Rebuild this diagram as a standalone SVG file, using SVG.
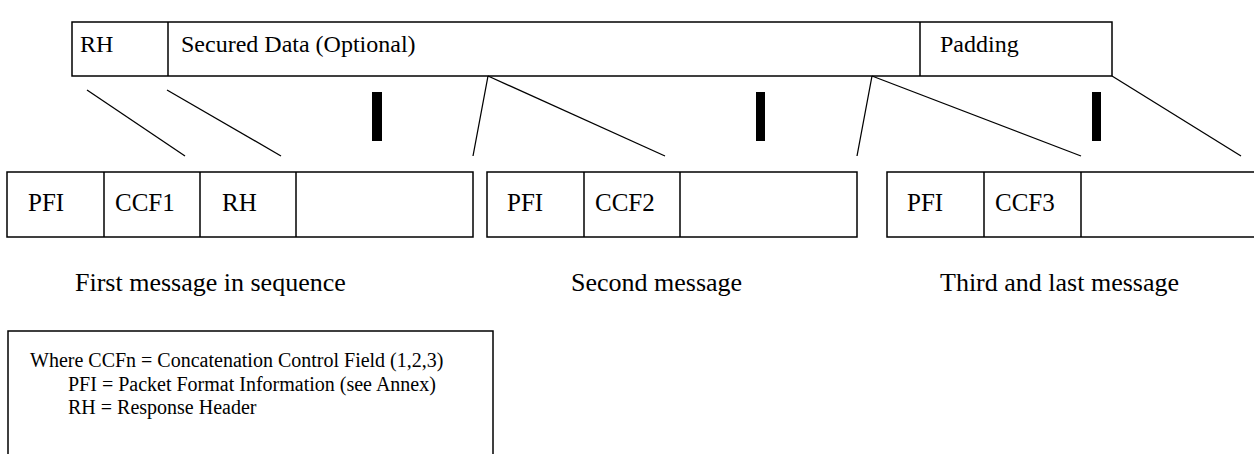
<svg xmlns="http://www.w3.org/2000/svg" width="1254" height="454" viewBox="0 0 1254 454">
<style>
.box{fill:#fff;stroke:#000;stroke-width:1.5}
.div{stroke:#000;stroke-width:1.5}
.ln{stroke:#000;stroke-width:1.3;fill:none}
.bar{fill:#000}
.t{font-family:"Liberation Serif","Times New Roman",serif;font-size:25px;fill:#000}
.tt{font-family:"Liberation Serif","Times New Roman",serif;font-size:24px;fill:#000}
.cap{font-family:"Liberation Serif","Times New Roman",serif;font-size:26px;fill:#000}
.lg{font-family:"Liberation Serif","Times New Roman",serif;font-size:20px;fill:#000}
</style>
<rect width="1254" height="454" fill="#fff"/>
<g id="top-frame">
<rect class="box" x="72" y="22" width="1040" height="54"/>
<line class="div" x1="168" y1="22" x2="168" y2="76"/>
<line class="div" x1="920" y1="22" x2="920" y2="76"/>
<text class="tt" x="80" y="52">RH</text>
<text class="tt" x="181" y="52">Secured Data (Optional)</text>
<text class="tt" x="940" y="52">Padding</text>
</g>
<g id="connectors">
<line class="ln" x1="87" y1="90" x2="185" y2="156"/>
<line class="ln" x1="167" y1="90" x2="281" y2="156"/>
<line class="ln" x1="488" y1="76" x2="473" y2="156"/>
<line class="ln" x1="488" y1="76" x2="665" y2="156"/>
<line class="ln" x1="872" y1="76" x2="857" y2="156"/>
<line class="ln" x1="872" y1="76" x2="1081" y2="156"/>
<line class="ln" x1="1112" y1="76" x2="1241" y2="156"/>
<rect class="bar" x="372" y="92" width="10" height="49"/>
<rect class="bar" x="756" y="92" width="9" height="49"/>
<rect class="bar" x="1092" y="92" width="9" height="49"/>
</g>
<g id="msg1">
<rect class="box" x="7" y="172" width="466" height="65"/>
<line class="div" x1="104" y1="172" x2="104" y2="237"/>
<line class="div" x1="200" y1="172" x2="200" y2="237"/>
<line class="div" x1="296" y1="172" x2="296" y2="237"/>
<text class="t" x="28" y="211">PFI</text>
<text class="t" x="115" y="211">CCF1</text>
<text class="t" x="222" y="211">RH</text>
<text class="cap" x="75" y="291">First message in sequence</text>
</g>
<g id="msg2">
<rect class="box" x="487" y="172" width="370" height="65"/>
<line class="div" x1="584" y1="172" x2="584" y2="237"/>
<line class="div" x1="680" y1="172" x2="680" y2="237"/>
<text class="t" x="507" y="211">PFI</text>
<text class="t" x="595" y="211">CCF2</text>
<text class="cap" x="571" y="291">Second message</text>
</g>
<g id="msg3">
<rect class="box" x="887" y="172" width="380" height="65"/>
<line class="div" x1="984" y1="172" x2="984" y2="237"/>
<line class="div" x1="1081" y1="172" x2="1081" y2="237"/>
<text class="t" x="907" y="211">PFI</text>
<text class="t" x="995" y="211">CCF3</text>
<text class="cap" x="940" y="291">Third and last message</text>
</g>
<g id="legend">
<rect class="box" x="8" y="331" width="485" height="140"/>
<text class="lg" x="30" y="367">Where CCFn = Concatenation Control Field (1,2,3)</text>
<text class="lg" x="68" y="391">PFI = Packet Format Information (see Annex)</text>
<text class="lg" x="68" y="414">RH = Response Header</text>
</g>
</svg>
